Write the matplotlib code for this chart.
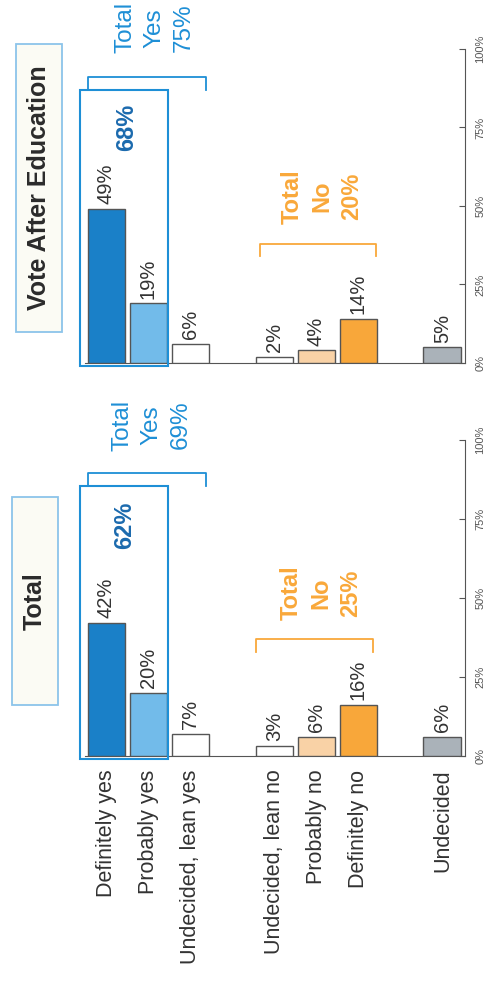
import matplotlib.pyplot as plt
from matplotlib.patches import Rectangle

plt.rcParams['font.family'] = ['Liberation Sans', 'DejaVu Sans']

categories = ['Definitely yes', 'Probably yes', 'Undecided, lean yes',
              'Undecided, lean no', 'Probably no', 'Definitely no', 'Undecided']
group_sizes = [3, 3, 1]
total_vals = [42, 20, 7, 3, 6, 16, 6]
after_vals = [49, 19, 6, 2, 4, 14, 5]
bar_colors = ['#1a80c8', '#72bbea', '#ffffff', '#ffffff', '#f9d2a6', '#f8a73a', '#aab2b9']
panel_titles = ['Vote After Education', 'Total']
sure_yes = [68, 62]
total_yes = [75, 69]
total_no = [20, 25]
ticks = [0, 25, 50, 75, 100]

# x positions: groups separated by one empty slot
xs = []
p = 0
for g in group_sizes:
    xs += list(range(p, p + g))
    p += g + 1

fig = plt.figure(figsize=(4.89, 9.85), dpi=100)
ax_top = fig.add_axes([0.1748, 0.6315, 0.7771, 0.3188])
ax_bot = fig.add_axes([0.1748, 0.2328, 0.7771, 0.3205])

blue = '#1e8fd6'
dblue = '#1b6aae'
orange = '#f9a83a'

setups = [
    (ax_top, after_vals, 0, dict(box_top=87, yb=91, yt=106.7, yx=1.15, sx=0.49, sy=75,
                                  nb=38, nt=53, nx=5.13, nl=3.65, nr=6.42)),
    (ax_bot, total_vals, 1, dict(box_top=85.3, yb=89.5, yt=104.7, yx=1.07, sx=0.44, sy=73,
                                  nb=37, nt=51.5, nx=5.1, nl=3.56, nr=6.35)),
]

for ax, vals, k, s in setups:
    ax.bar(xs, vals, width=0.9, color=bar_colors, edgecolor='#555555', linewidth=1, zorder=3)
    for x, v in zip(xs, vals):
        ax.text(x, v + 1.5, f'{v}%', rotation=90, ha='center', va='bottom',
                fontsize=14.5, color='#333333')
    ax.set_xlim(-0.5, 8.55)
    ax.set_ylim(0, 100)
    ax.spines['top'].set_visible(False)
    ax.spines['left'].set_visible(False)
    ax.spines['right'].set_color('#555555')
    ax.spines['bottom'].set_color('#555555')
    ax.yaxis.tick_right()
    ax.set_yticks(ticks)
    ax.set_yticklabels([f'{t}%' for t in ticks], rotation=90, va='center',
                       fontsize=8, color='#555555')
    ax.tick_params(axis='y', direction='in', length=4, color='#555555', pad=7)
    ax.tick_params(axis='x', length=0)

    # blue box around the sure-yes bars
    ax.add_patch(Rectangle((-0.63, -1), 2.09, s['box_top'] + 1, fill=False,
                           edgecolor=blue, linewidth=1.5, clip_on=False, zorder=4))
    ax.text(s['sx'], s['sy'], f'{sure_yes[k]}%', rotation=90, ha='center', va='center',
            fontsize=17, fontweight='bold', color=dblue)

    # total yes bracket
    ax.plot([-0.44, -0.44, 2.37, 2.37], [s['yb'] - 4, s['yb'], s['yb'], s['yb'] - 4],
            color=blue, lw=1.3, clip_on=False)
    ax.text(s['yx'], s['yt'], f'Total\nYes\n{total_yes[k]}%', rotation=90, ha='center',
            va='center', multialignment='center', fontsize=17.5, color=blue,
            linespacing=1.42)

    # total no bracket
    ax.plot([s['nl'], s['nl'], s['nr'], s['nr']], [s['nb'] - 4, s['nb'], s['nb'], s['nb'] - 4],
            color=orange, lw=1.3, clip_on=False)
    ax.text(s['nx'], s['nt'], f'Total\nNo\n{total_no[k]}%', rotation=90, ha='center',
            va='center', multialignment='center', fontsize=17, fontweight='bold',
            color=orange, linespacing=1.38)

ax_top.set_xticks([])
ax_bot.set_xticks(xs)
ax_bot.set_xticklabels(categories, rotation=90, fontsize=15.5, color='#333333', va='top')
ax_bot.tick_params(axis='x', pad=10)

# panel title boxes
title_boxes = [(16, 44, 46, 288), (12, 497, 46, 208)]
for title, (bx, by, bw, bh) in zip(panel_titles, title_boxes):
    fig.patches.append(Rectangle((bx / 489, 1 - (by + bh) / 985), bw / 489, bh / 985,
                                 transform=fig.transFigure, facecolor='#fbfbf4',
                                 edgecolor='#8cc4ea', linewidth=1.3))
    fig.text((bx + bw / 2) / 489, 1 - (by + bh / 2) / 985, title, rotation=90,
             ha='center', va='center', fontsize=18, fontweight='bold', color='#2b2b2b')

fig.savefig('out.png', dpi=100)
